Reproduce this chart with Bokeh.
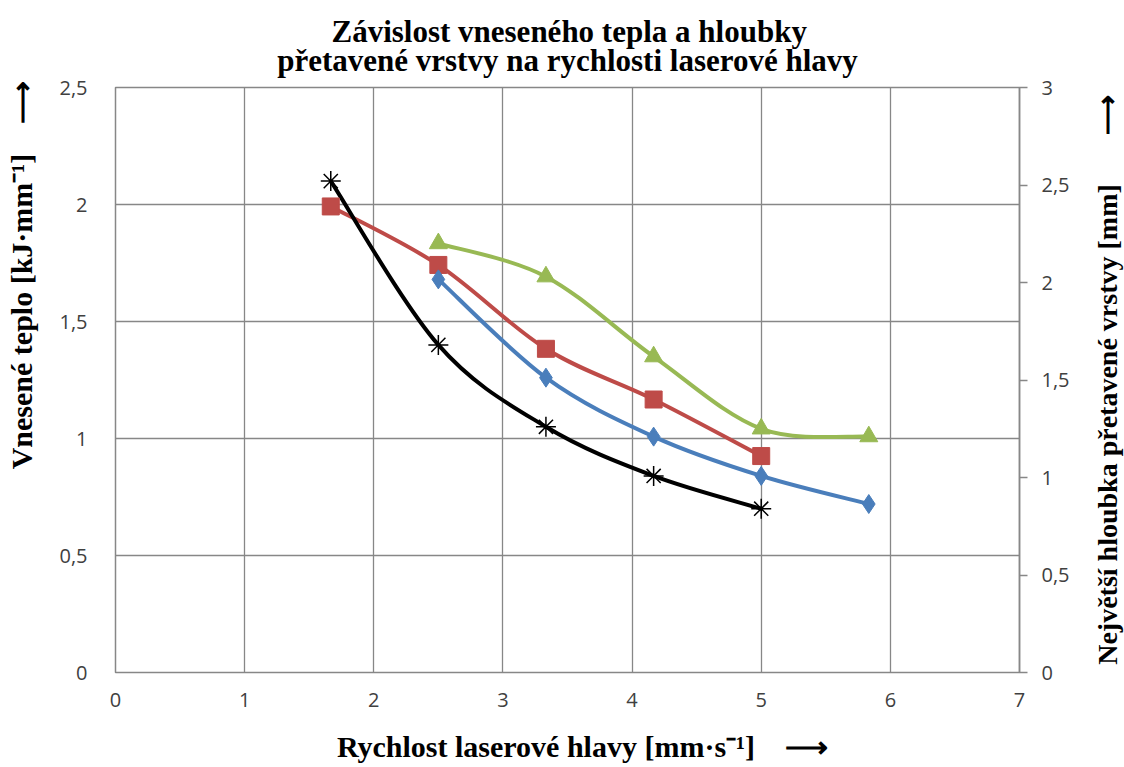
from bokeh.plotting import figure
from bokeh.layouts import row
from bokeh.models import Range1d, LinearAxis, FixedTicker, Title
from bokeh.embed import file_html
from bokeh.resources import INLINE

# ---- data ----
heat_black_x = [1.667, 2.5, 3.333, 4.167, 5.0]
heat_black = [2.10, 1.40, 1.05, 0.84, 0.70]              # kJ/mm (left axis)
heat_blue_x = [2.5, 3.333, 4.167, 5.0, 5.833]
heat_blue = [1.68, 1.26, 1.008, 0.84, 0.72]               # kJ/mm (left axis)
depth_red_x = [1.667, 2.5, 3.333, 4.167, 5.0]
depth_red = [2.39, 2.09, 1.66, 1.40, 1.11]                # mm (right axis)
depth_green_x = [2.5, 3.333, 4.167, 5.0, 5.833]
depth_green = [2.20, 2.03, 1.62, 1.25, 1.21]              # mm (right axis)

x_ticks = [0, 1, 2, 3, 4, 5, 6, 7]
x_labels = ["0", "1", "2", "3", "4", "5", "6", "7"]
left_ticks = [0, 0.5, 1, 1.5, 2, 2.5]
left_labels = ["0", "0,5", "1", "1,5", "2", "2,5"]
right_ticks = [0, 0.5, 1, 1.5, 2, 2.5, 3]
right_labels = ["0", "0,5", "1", "1,5", "2", "2,5", "3"]

NB = "\u00a0"
title_line1 = "Závislost vneseného tepla a hloubky"
title_line2 = "přetavené vrstvy na rychlosti laserové hlavy"
title_text = NB * 7 + title_line1 + "\n" + title_line2
xlabel = NB * 4 + "Rychlost laserové hlavy [mm·s⁻¹]" + NB * 4 + "⟶"
ylabel_left = NB * 28 + "Vnesené teplo [kJ·mm⁻¹]" + NB * 4 + "⟶"
ylabel_right = "Největší hloubka přetavené vrstvy [mm]" + NB * 7 + "⟶"

GRID = "#878787"
SERIF = "Liberation Serif"
SANS = "Open Sans"

W, H = 1124, 765
W1 = 1076                               # main chart width; the rest holds the right title
FL, FT, FR, FB = 115, 87, 1019, 672     # frame edges in page pixels
p = figure(width=W1, height=H, output_backend="svg", toolbar_location=None,
           x_range=Range1d(0, 7), y_range=Range1d(0, 2.5),
           min_border_left=FL, min_border_right=W1 - FR,
           min_border_top=FT, min_border_bottom=H - FB)
p.extra_y_ranges = {"depth": Range1d(0, 3)}

p.title.text = title_text
p.title.align = "center"
p.title.text_font = SERIF
p.title.text_font_size = "31px"
p.title.text_font_style = "bold"
p.title.text_color = "black"
p.title.text_line_height = 0.84
p.title.standoff = 18
p.title.offset = 0

p.outline_line_color = GRID
p.outline_line_width = 1.5
p.background_fill_color = "white"
p.border_fill_color = "white"

for ax, ticks, labels in ((p.xaxis[0], x_ticks, x_labels), (p.yaxis[0], left_ticks, left_labels)):
    ax.ticker = FixedTicker(ticks=ticks)
    ax.major_label_overrides = {t: l for t, l in zip(ticks, labels)}
    ax.axis_line_color = None
    ax.major_tick_line_color = None
    ax.minor_tick_line_color = None
    ax.major_label_text_font = SANS
    ax.major_label_text_font_size = "20px"
    ax.major_label_text_color = "#404040"
    ax.axis_label_text_font = SERIF
    ax.axis_label_text_font_size = "30px"
    ax.axis_label_text_font_style = "bold"
    ax.axis_label_text_color = "black"

p.xaxis[0].axis_label = xlabel
p.xaxis[0].major_label_standoff = 14
p.xaxis[0].axis_label_standoff = 20
p.yaxis[0].axis_label = ylabel_left
p.yaxis[0].major_label_standoff = 22
p.yaxis[0].axis_label_standoff = 18

raxis = LinearAxis(y_range_name="depth")
raxis.ticker = FixedTicker(ticks=right_ticks)
raxis.major_label_overrides = {t: l for t, l in zip(right_ticks, right_labels)}
raxis.axis_line_color = GRID
raxis.axis_line_width = 1.5
raxis.major_tick_line_color = GRID
raxis.major_tick_line_width = 1.5
raxis.major_tick_out = 8
raxis.major_tick_in = 0
raxis.minor_tick_line_color = None
raxis.major_label_text_font = SANS
raxis.major_label_text_font_size = "20px"
raxis.major_label_text_color = "#404040"
raxis.major_label_standoff = 14
p.add_layout(raxis, "right")

p.xgrid.ticker = FixedTicker(ticks=x_ticks)
p.ygrid.ticker = FixedTicker(ticks=left_ticks)
p.xgrid.grid_line_color = GRID
p.ygrid.grid_line_color = GRID
p.xgrid.grid_line_width = 1.3
p.ygrid.grid_line_width = 1.3


def smooth(xs, ys):
    """Catmull-Rom (Excel-like smoothing) converted to cubic Bezier segments."""
    n = len(xs)
    x0, y0, x1, y1, cx0, cy0, cx1, cy1 = ([] for _ in range(8))
    for i in range(n - 1):
        im = max(i - 1, 0)
        ip = min(i + 2, n - 1)
        x0.append(xs[i]); y0.append(ys[i])
        x1.append(xs[i + 1]); y1.append(ys[i + 1])
        cx0.append(xs[i] + (xs[i + 1] - xs[im]) / 6)
        cy0.append(ys[i] + (ys[i + 1] - ys[im]) / 6)
        cx1.append(xs[i + 1] - (xs[ip] - xs[i]) / 6)
        cy1.append(ys[i + 1] - (ys[ip] - ys[i]) / 6)
    return dict(x0=x0, y0=y0, x1=x1, y1=y1, cx0=cx0, cy0=cy0, cx1=cx1, cy1=cy1)


BLUE, RED, GREEN, BLACK = "#4A7EBB", "#BE4B48", "#98B954", "#000000"

# lines
p.bezier(line_color=GREEN, line_width=4, y_range_name="depth", **smooth(depth_green_x, depth_green))
p.bezier(line_color=RED, line_width=4, y_range_name="depth", **smooth(depth_red_x, depth_red))
p.bezier(line_color=BLUE, line_width=4, **smooth(heat_blue_x, heat_blue))
p.bezier(line_color=BLACK, line_width=4, **smooth(heat_black_x, heat_black))

# markers
p.scatter(depth_green_x, depth_green, marker="triangle", size=18, fill_color=GREEN,
          line_color=GREEN, y_range_name="depth")
p.scatter(depth_red_x, depth_red, marker="square", size=17, fill_color=RED,
          line_color=RED, y_range_name="depth")
p.scatter(heat_blue_x, heat_blue, marker="diamond", size=19, fill_color=BLUE, line_color=BLUE)
p.scatter(heat_black_x, heat_black, marker="asterisk", size=20, line_color=BLACK, line_width=1.5)

# narrow companion figure carrying the right-hand axis title (reads bottom-to-top)
W2 = W - W1
p2 = figure(width=W2, height=H, output_backend="svg", toolbar_location=None,
            x_axis_location=None, y_axis_location=None,
            min_border_left=W2 - 2, min_border_right=0,
            min_border_top=FT, min_border_bottom=H - FB)
p2.outline_line_color = None
p2.background_fill_color = "white"
p2.border_fill_color = "white"
p2.add_layout(Title(text=ylabel_right, align="center", vertical_align="bottom",
                    text_font=SERIF, text_font_size="28px", text_font_style="bold",
                    text_color="black", standoff=0, offset=0), "left")

layout = row(p, p2, spacing=0)
open("out.html", "w").write(file_html(layout, INLINE))
